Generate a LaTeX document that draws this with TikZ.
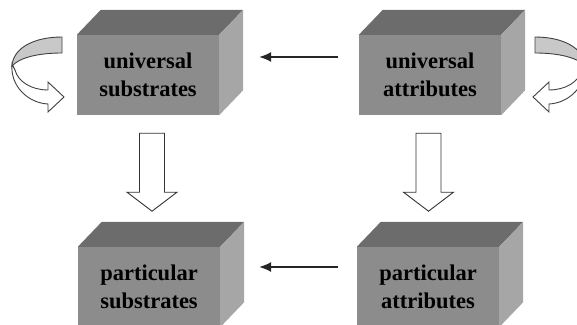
\documentclass[tikz,border=0pt]{standalone}
\usepackage{fontspec}
\setmainfont{Liberation Serif}
\usepackage{tikz}
\usetikzlibrary{calc,arrows.meta}
\definecolor{frontgray}{RGB}{140,140,140}
\definecolor{topgray}{RGB}{108,108,108}
\definecolor{sidegray}{RGB}{166,166,166}
\definecolor{loopgray}{RGB}{200,200,200}
\newcommand{\mydx}{24}
\newcommand{\mydy}{25}
\tikzset{
    node style box/.style={fill=frontgray,minimum width=142pt,minimum height=80pt,inner sep=0pt,align=center,
        font=\fontsize{22.5}{28}\selectfont\bfseries},
    arrow style line/.style={draw=black!85,line width=1.3pt,-{Latex[length=12pt,width=10pt]}},
    arrow style block/.style={draw=black!80,line width=0.9pt,fill=white,line join=miter},
    arrow style loop/.style={draw=black!75,line width=0.9pt},
}
\newcommand{\blockarrow}[1]{\draw[arrow style block] ($(#1)+(-12.5,0)$) -- ++(25,0) -- ++(0,59) -- ++(12.5,0) -- ++(-25,19) -- ++(-25,-19) -- ++(12.5,0) -- cycle;}
\newcommand{\looparrow}{%
  \filldraw[arrow style loop,fill=white] (12,64) .. controls (10,86) and (28,103) .. (48,104) -- (48,112) -- (64,97) -- (48,82) -- (48,90) .. controls (32,90) and (18,82) .. (15,70) -- cycle;
  \filldraw[arrow style loop,fill=loopgray] (62,37) .. controls (34,37) and (13,48) .. (12,66) .. controls (20,57) and (40,53) .. (62,53) -- cycle;}

\begin{document}
\begin{tikzpicture}[x=1pt,y=-1pt]
  \useasboundingbox (0,0) rectangle (577,324);
  \clip (0,0) rectangle (577,324);

  \node[node style box] (us) at (148,75) {universal\\substrates};
  \node[node style box] (ua) at (430,75) {universal\\attributes};
  \node[node style box] (ps) at (149,287) {particular\\substrates};
  \node[node style box] (pa) at (428,287) {particular\\attributes};

  % top and side faces
  \foreach \n in {us,ua,ps,pa}{
    \fill[topgray] (\n.north west) -- ++(\mydx,-\mydy) -- ($(\n.north east)+(\mydx,-\mydy)$) -- (\n.north east) -- cycle;
    \fill[sidegray] (\n.north east) -- ++(\mydx,-\mydy) -- ($(\n.south east)+(\mydx,-\mydy)$) -- (\n.south east) -- cycle;
  }

  \draw[arrow style line] ($(ua.west)+(-21,-18)$) -- ($(us.east)+(40,-18)$);
  \draw[arrow style line] ($(pa.west)+(-19,-20)$) -- ($(ps.east)+(39,-20)$);

  \coordinate (us-out) at ($(us.south)+(4,18)$);
  \coordinate (ua-out) at ($(ua.south)+(-1.5,18)$);
  \blockarrow{us-out}
  \blockarrow{ua-out}

  \looparrow
  \begin{scope}[xshift=597pt,xscale=-1]
    \looparrow
  \end{scope}
\end{tikzpicture}
\end{document}
